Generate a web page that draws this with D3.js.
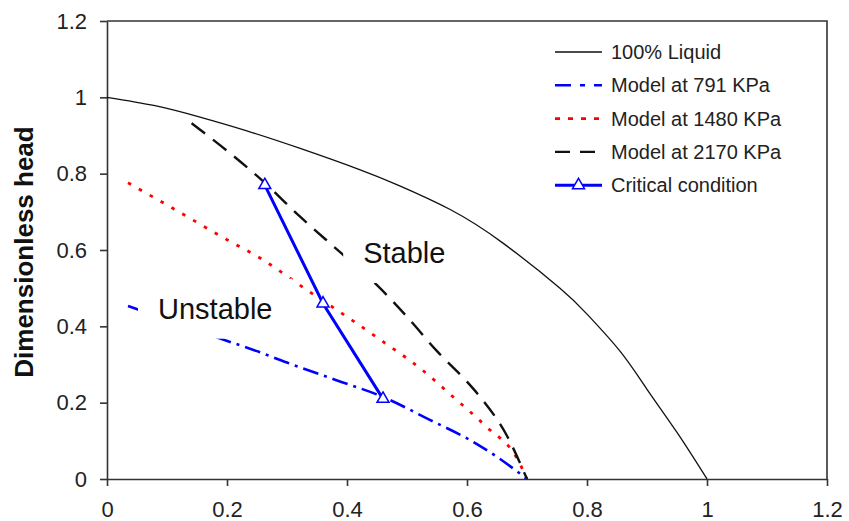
<!DOCTYPE html>
<html>
<head>
<meta charset="utf-8">
<script src="https://cdn.jsdelivr.net/npm/d3@7/dist/d3.min.js"></script>
<style>
  html, body { margin: 0; padding: 0; background: #fff; }
  svg { display: block; font-family: "Liberation Sans", Arial, Helvetica, sans-serif; }
</style>
</head>
<body>
<svg id="chart" width="849" height="521"></svg>
<script>
// Dimensionless flow (x) vs dimensionless head (y)
const liquidX = [0, 0.08, 0.155, 0.233, 0.322, 0.422, 0.485, 0.572, 0.66, 0.755, 0.8, 0.855, 0.9, 0.95, 1.0];
const liquidY = [1.0, 0.978, 0.948, 0.912, 0.866, 0.81, 0.77, 0.706, 0.618, 0.5, 0.432, 0.335, 0.235, 0.122, 0.0];

const model791X = [0.035, 0.1, 0.185, 0.25, 0.3, 0.38, 0.46, 0.538, 0.605, 0.65, 0.7];
const model791Y = [0.453, 0.418, 0.37, 0.335, 0.305, 0.26, 0.215, 0.155, 0.102, 0.058, 0.0];

const model1480X = [0.035, 0.1, 0.2, 0.255, 0.338, 0.4, 0.46, 0.522, 0.577, 0.633, 0.683, 0.7];
const model1480Y = [0.776, 0.718, 0.627, 0.579, 0.49, 0.425, 0.36, 0.29, 0.215, 0.136, 0.055, 0.0];

const model2170X = [0.141, 0.2, 0.258, 0.32, 0.388, 0.45, 0.5, 0.55, 0.6, 0.622, 0.667, 0.7];
const model2170Y = [0.932, 0.86, 0.783, 0.69, 0.595, 0.508, 0.425, 0.335, 0.255, 0.215, 0.112, 0.0];

const criticalX = [0.263, 0.36, 0.46];
const criticalY = [0.77, 0.46, 0.21];

const xTicks = [0, 0.2, 0.4, 0.6, 0.8, 1, 1.2];
const yTicks = [0, 0.2, 0.4, 0.6, 0.8, 1, 1.2];

const legendLabels = ["100% Liquid", "Model at 791 KPa", "Model at 1480 KPa", "Model at 2170 KPa", "Critical condition"];

const BLUE = "#0000ff", RED = "#ff0000", BLACK = "#111";

const svg = d3.select("#chart");
const margin = { left: 107, right: 22, top: 21, bottom: 42 };
const W = 849, H = 521;

const x = d3.scaleLinear().domain([0, 1.2]).range([margin.left, W - margin.right]);
const y = d3.scaleLinear().domain([0, 1.2]).range([H - margin.bottom, margin.top]);

const zip = (xs, ys) => xs.map((v, i) => [v, ys[i]]);
const line = d3.line().x(d => x(d[0])).y(d => y(d[1])).curve(d3.curveMonotoneX);
const smoothLine = d3.line().x(d => x(d[0])).y(d => y(d[1])).curve(d3.curveNatural);

// Frame (top and right sides)
svg.append("path")
  .attr("d", `M${x(0)},${y(1.2)}H${x(1.2)}V${y(0)}`)
  .attr("fill", "none").attr("stroke", "#333").attr("stroke-width", 1.6);

// Axes
const axisStyle = g => {
  g.select(".domain").attr("stroke", "#333").attr("stroke-width", 1.6);
  g.selectAll(".tick line").attr("stroke", "#333").attr("stroke-width", 1.6);
  g.selectAll(".tick text").attr("fill", "#222").attr("font-size", 22)
    .attr("font-family", '"Liberation Sans", Arial, sans-serif');
};
svg.append("g")
  .attr("transform", `translate(0,${y(0)})`)
  .call(d3.axisBottom(x).tickValues(xTicks).tickFormat(d3.format("~g")).tickSize(7).tickPadding(15).tickSizeOuter(0))
  .call(axisStyle);
svg.append("g")
  .attr("transform", `translate(${x(0)},0)`)
  .call(d3.axisLeft(y).tickValues(yTicks).tickFormat(d3.format("~g")).tickSize(7).tickPadding(13).tickSizeOuter(0))
  .call(axisStyle);

// Y axis title
svg.append("text")
  .attr("transform", `translate(33,${(y(0) + y(1.2)) / 2 + 2}) rotate(-90)`)
  .attr("text-anchor", "middle")
  .attr("font-size", 26).attr("font-weight", "bold").attr("fill", "#111")
  .text("Dimensionless head");

// Curves
const series = [
  { data: zip(liquidX, liquidY), color: BLACK, width: 1.3, dash: null, gen: smoothLine },
  { data: zip(model791X, model791Y), color: BLUE, width: 2.6, dash: "16,6,3,6", gen: line },
  { data: zip(model1480X, model1480Y), color: RED, width: 2.8, dash: "3.5,9", gen: line },
  { data: zip(model2170X, model2170Y), color: BLACK, width: 2.4, dash: "17,10", gen: line }
];
series.forEach(s => {
  svg.append("path")
    .attr("d", s.gen(s.data))
    .attr("fill", "none")
    .attr("stroke", s.color)
    .attr("stroke-width", s.width)
    .attr("stroke-dasharray", s.dash);
});

// Region labels on white boxes
function regionLabel(text, xv, yv) {
  const g = svg.append("g");
  const rect = g.append("rect").attr("fill", "#fff");
  const t = g.append("text")
    .attr("x", x(xv)).attr("y", y(yv))
    .attr("font-size", 29).attr("fill", "#111")
    .text(text);
  const b = t.node().getBBox();
  rect.attr("x", b.x - 20).attr("y", b.y - 14)
    .attr("width", b.width + 40).attr("height", b.height + 28);
}
regionLabel("Stable", 0.427, 0.566);
regionLabel("Unstable", 0.085, 0.42);

// Critical condition
const critData = zip(criticalX, criticalY);
svg.append("path")
  .attr("d", d3.line().x(d => x(d[0])).y(d => y(d[1]))(critData))
  .attr("fill", "none").attr("stroke", BLUE).attr("stroke-width", 3);
const tri = d3.symbol().type(d3.symbolTriangle).size(62);
svg.selectAll(".crit")
  .data(critData).enter().append("path")
  .attr("class", "crit")
  .attr("transform", d => `translate(${x(d[0])},${y(d[1])})`)
  .attr("d", tri)
  .attr("fill", "#fff").attr("stroke", BLUE).attr("stroke-width", 1.5);

// Legend
const legend = svg.append("g");
const legendStyles = [
  { color: BLACK, width: 1.3, dash: null },
  { color: BLUE, width: 2.6, dash: "16,9,5,9" },
  { color: RED, width: 2.6, dash: "5,8" },
  { color: BLACK, width: 2.4, dash: "15,10" },
  { color: BLUE, width: 3, dash: null, marker: true }
];
legendLabels.forEach((lab, i) => {
  const cy = 52 + i * 33.3;
  const st = legendStyles[i];
  legend.append("line")
    .attr("x1", 555).attr("x2", 602).attr("y1", cy).attr("y2", cy)
    .attr("stroke", st.color).attr("stroke-width", st.width)
    .attr("stroke-dasharray", st.dash);
  if (st.marker) {
    legend.append("path")
      .attr("transform", `translate(578.5,${cy})`)
      .attr("d", tri)
      .attr("fill", "#fff").attr("stroke", BLUE).attr("stroke-width", 1.5);
  }
  legend.append("text")
    .attr("x", 611).attr("y", cy + 7)
    .attr("font-size", 20).attr("fill", "#222")
    .text(lab);
});
</script>
</body>
</html>
